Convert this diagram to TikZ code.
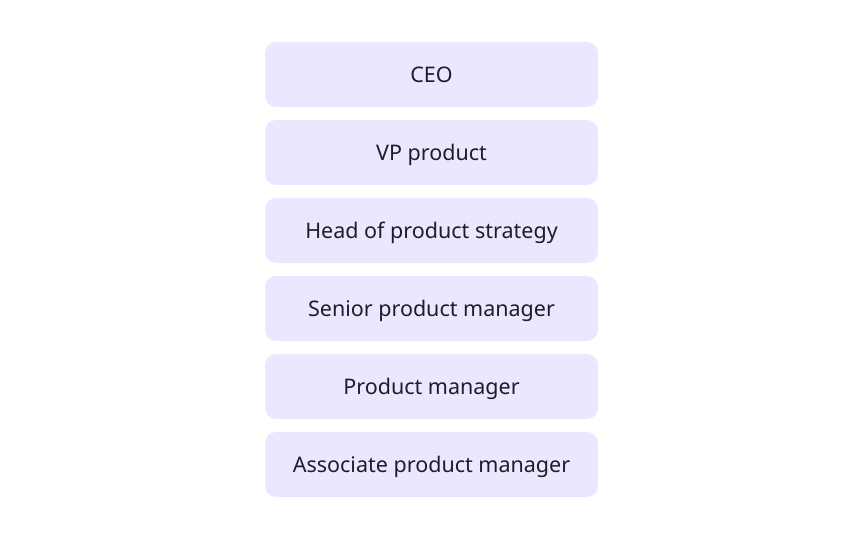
\documentclass[tikz,border=0pt]{standalone}
\usepackage{fontspec}
\setmainfont{Noto Sans}
\definecolor{boxfill}{HTML}{ECE7FE}
\definecolor{txt}{HTML}{1F1D2B}
\begin{document}
\begin{tikzpicture}[x=1pt,y=-1pt,
  rolebox/.style={fill=boxfill,draw=none,rounded corners=11pt,minimum width=333pt,minimum height=65pt,inner sep=0pt,text=txt,text height=15.4pt,text depth=0pt,font=\fontsize{21.5}{24}\selectfont}]
\useasboundingbox (0,0) rectangle (864,540);
\node[rolebox] (ceo) at (431.5,74.5) {CEO};
\node[rolebox] (vp) at (431.5,152.5) {VP product};
\node[rolebox] (head) at (431.5,230.5) {Head of product strategy};
\node[rolebox] (spm) at (431.5,308.5) {Senior product manager};
\node[rolebox] (pm) at (431.5,386.5) {Product manager};
\node[rolebox] (apm) at (431.5,464.5) {Associate product manager};
\end{tikzpicture}
\end{document}
